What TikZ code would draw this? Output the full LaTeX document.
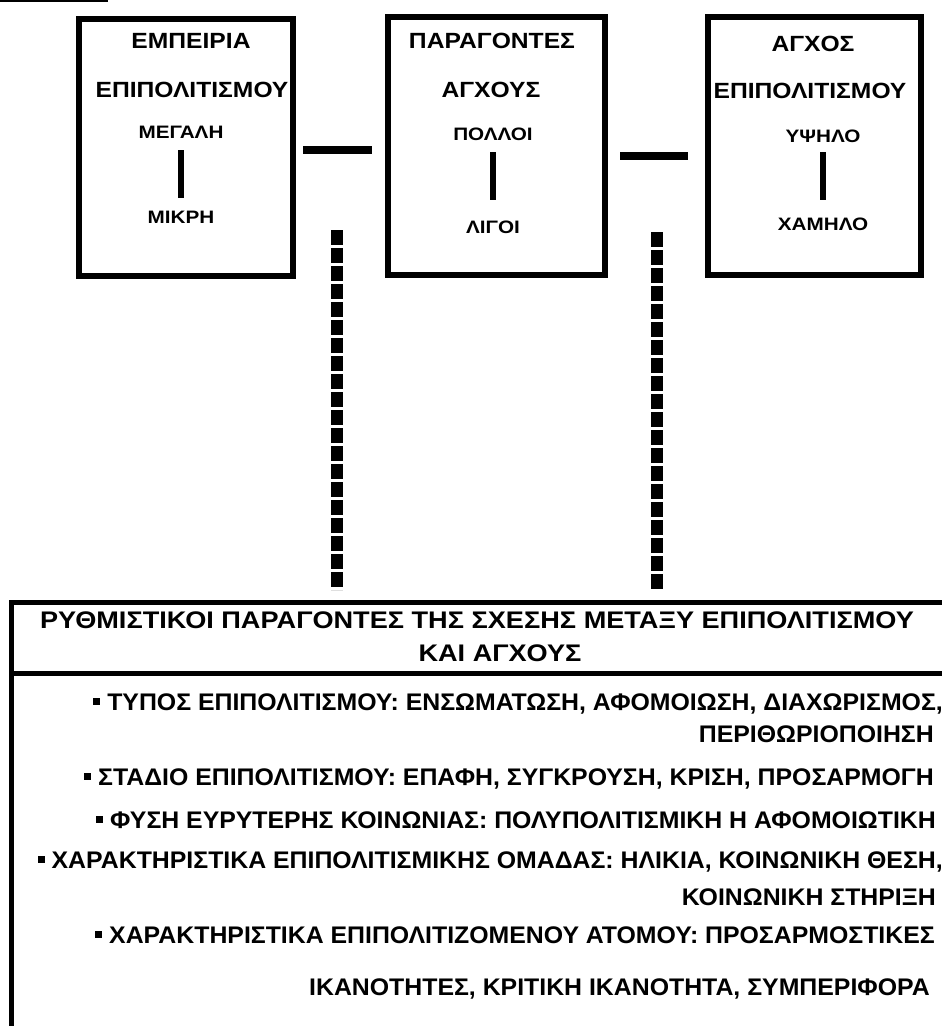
\documentclass[tikz,border=0pt]{standalone}
\usepackage{fontspec}
\setmainfont{Liberation Sans}
\newfontfamily\fTitle[FakeStretch=1.12]{Liberation Sans}
\newfontfamily\fLabel[FakeStretch=1.15]{Liberation Sans}
\newfontfamily\fBody[FakeStretch=1.035]{Liberation Sans}
\newfontfamily\fHead[FakeStretch=1.13]{Liberation Sans}
\newcommand{\bul}{\rule[5.5pt]{7pt}{7pt}}
\begin{document}
\begin{tikzpicture}[x=1pt,y=-1pt,
  box/.style={draw, line width=6pt, rectangle, inner sep=0pt, outer sep=0pt},
  ttl/.style={font=\fontsize{22}{22}\fTitle\bfseries, inner sep=0pt, anchor=base},
  lbl/.style={font=\fontsize{18}{18}\fLabel\bfseries, inner sep=0pt, anchor=base},
  btxt/.style={font=\fontsize{24}{24}\fBody\bfseries, inner sep=0pt, anchor=base east},
  htxt/.style={font=\fontsize{24}{24}\fHead\bfseries, inner sep=0pt, anchor=base},
  conn/.style={line width=8pt},
  scalebar/.style={line width=6pt},
  dashl/.style={line width=12pt, dash pattern=on 15pt off 3pt}]
\useasboundingbox (0,0) rectangle (942,1026);
\clip (0,0) rectangle (942,1026);
% stray underline at top-left
\draw[line width=1.5pt] (0,1) -- (108,1);
% top boxes
\node[box, minimum width=214pt, minimum height=257pt] (b1) at (186,147.5) {};
\node[box, minimum width=217pt, minimum height=258pt] (b2) at (496.5,146) {};
\node[box, minimum width=213pt, minimum height=258pt] (b3) at (814.5,146) {};
% box 1 text
\node[ttl] (t1a) at (191,48) {ΕΜΠΕΙΡΙΑ};
\node[ttl] (t1b) at (192,97) {ΕΠΙΠΟΛΙΤΙΣΜΟΥ};
\node[lbl] (h1) at (181,138) {ΜΕΓΑΛΗ};
\node[lbl] (l1) at (181,223) {ΜΙΚΡΗ};
\draw[scalebar, shorten <=12pt, shorten >=12pt] (h1.south) -- (h1.south |- l1.north);
% box 2 text
\node[ttl] (t2a) at (492,48) {ΠΑΡΑΓΟΝΤΕΣ};
\node[ttl] (t2b) at (491,97) {ΑΓΧΟΥΣ};
\node[lbl] (h2) at (493,140) {ΠΟΛΛΟΙ};
\node[lbl] (l2) at (493,233) {ΛΙΓΟΙ};
\draw[scalebar, shorten <=12pt, shorten >=20pt] (h2.south) -- (h2.south |- l2.north);
% box 3 text
\node[ttl] (t3a) at (813,51) {ΑΓΧΟΣ};
\node[ttl] (t3b) at (810,98) {ΕΠΙΠΟΛΙΤΙΣΜΟΥ};
\node[lbl] (h3) at (823,142) {ΥΨΗΛΟ};
\node[lbl] (l3) at (823,230) {ΧΑΜΗΛΟ};
\draw[scalebar, shorten <=10pt, shorten >=17pt] (h3.south) -- (h3.south |- l3.north);
% connectors between boxes
\draw[conn, shorten <=10pt, shorten >=16pt] (b1.east |- 0,150) -- (b2.west |- 0,150);
\draw[conn, shorten <=15pt, shorten >=20pt] (b2.east |- 0,156) -- (b3.west |- 0,156);
% bottom box
\node[box, line width=5pt, minimum width=1000pt, minimum height=460pt, anchor=north west] (bot) at (11,602) {};
\draw[line width=5pt] (bot.west |- 0,673) -- (bot.east |- 0,673);
% dashed links
\coordinate (d1) at (337,230);
\coordinate (d2) at (657,232);
\draw[dashl, shorten >=12pt] (d1) -- (d1 |- bot.north);
\draw[dashl, shorten >=12pt] (d2) -- (d2 |- bot.north);
% bottom text
\node[htxt] (h1t) at (477,628) {ΡΥΘΜΙΣΤΙΚΟΙ ΠΑΡΑΓΟΝΤΕΣ ΤΗΣ ΣΧΕΣΗΣ ΜΕΤΑΞΥ ΕΠΙΠΟΛΙΤΙΣΜΟΥ};
\node[htxt] (h2t) at (500,661) {ΚΑΙ ΑΓΧΟΥΣ};
\node[btxt] (r1) at (943,710) {\bul{} ΤΥΠΟΣ ΕΠΙΠΟΛΙΤΙΣΜΟΥ: ΕΝΣΩΜΑΤΩΣΗ, ΑΦΟΜΟΙΩΣΗ, ΔΙΑΧΩΡΙΣΜΟΣ,};
\node[btxt] (r2) at (934,742) {ΠΕΡΙΘΩΡΙΟΠΟΙΗΣΗ};
\node[btxt] (r3) at (934,785) {\bul{} ΣΤΑΔΙΟ ΕΠΙΠΟΛΙΤΙΣΜΟΥ: ΕΠΑΦΗ, ΣΥΓΚΡΟΥΣΗ, ΚΡΙΣΗ, ΠΡΟΣΑΡΜΟΓΗ};
\node[btxt] (r4) at (936,828) {\bul{} ΦΥΣΗ ΕΥΡΥΤΕΡΗΣ ΚΟΙΝΩΝΙΑΣ: ΠΟΛΥΠΟΛΙΤΙΣΜΙΚΗ Η ΑΦΟΜΟΙΩΤΙΚΗ};
\node[btxt] (r5) at (943,868) {\bul{} ΧΑΡΑΚΤΗΡΙΣΤΙΚΑ ΕΠΙΠΟΛΙΤΙΣΜΙΚΗΣ ΟΜΑΔΑΣ: ΗΛΙΚΙΑ, ΚΟΙΝΩΝΙΚΗ ΘΕΣΗ,};
\node[btxt] (r6) at (936,905) {ΚΟΙΝΩΝΙΚΗ ΣΤΗΡΙΞΗ};
\node[btxt] (r7) at (935,943) {\bul{} ΧΑΡΑΚΤΗΡΙΣΤΙΚΑ ΕΠΙΠΟΛΙΤΙΖΟΜΕΝΟΥ ΑΤΟΜΟΥ: ΠΡΟΣΑΡΜΟΣΤΙΚΕΣ};
\node[btxt] (r8) at (930,995) {ΙΚΑΝΟΤΗΤΕΣ, ΚΡΙΤΙΚΗ ΙΚΑΝΟΤΗΤΑ, ΣΥΜΠΕΡΙΦΟΡΑ};
\end{tikzpicture}
\end{document}
